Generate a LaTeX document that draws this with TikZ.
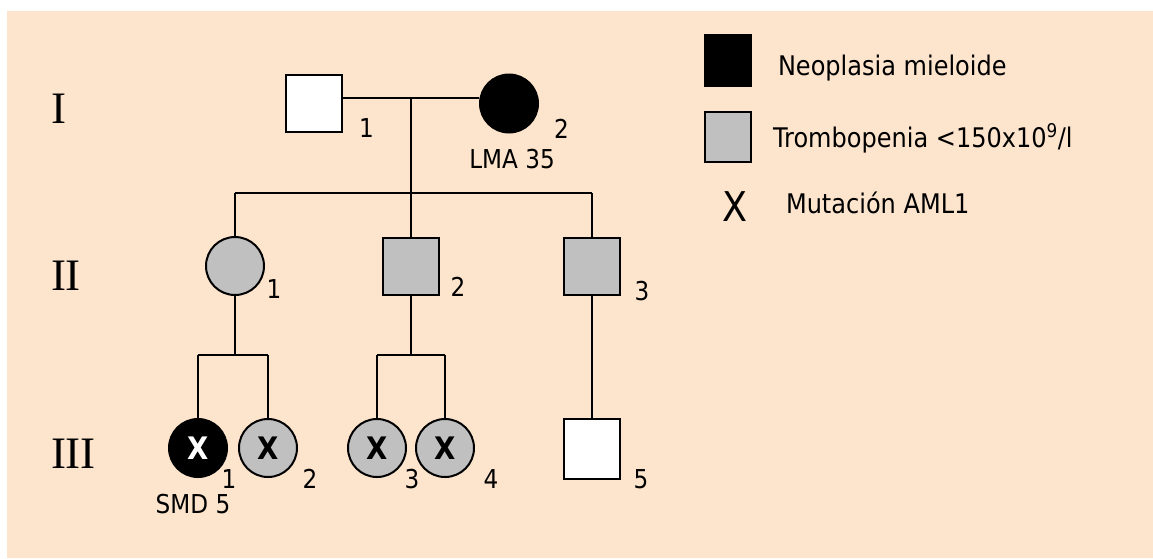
\documentclass[tikz,border=0pt]{standalone}
\usepackage{fontspec}
\setmainfont{Liberation Serif}
\newfontfamily\labelfont[FakeStretch=0.89]{DejaVu Sans}
\definecolor{peach}{RGB}{253,228,205}
\definecolor{affgray}{RGB}{192,192,192}

\begin{document}
\begin{tikzpicture}[x=1pt,y=-1pt, line width=2pt,
  male/.style={draw, rectangle, minimum width=56pt, minimum height=57pt, inner sep=0pt},
  female/.style={draw, circle, minimum size=58pt, inner sep=0pt},
  healthy/.style={fill=white},
  thrombo/.style={fill=affgray},
  myeloid/.style={fill=black},
  idlabel/.style={font=\labelfont\fontsize{26}{26}\selectfont, inner sep=0pt, anchor=base},
  gen/.style={font=\fontsize{45}{45}\selectfont, inner sep=0pt, anchor=base west},
  legtext/.style={font=\labelfont\fontsize{27}{27}\selectfont, inner sep=0pt, anchor=base west},
  mut/.style={font=\labelfont\bfseries\fontsize{31}{31}\selectfont, text depth=-3pt}
]
% canvas
\useasboundingbox (0,0) rectangle (1153,558);
\fill[white] (0,0) rectangle (1153,558);
\fill[peach] (7.3,11) rectangle (1153,558);

% generation numerals
\node[gen] (gI)   at (50,123) {I};
\node[gen] (gII)  at (50,290) {II};
\node[gen] (gIII) at (50,468) {III};

% generation I
\node[male, healthy]   (I1) at (314,103.5) {};
\node[female, myeloid] (I2) at (509,103.5) {};
\node[idlabel] (I1n) at (366.5,137) {1};
\node[idlabel] (I2n) at (561.5,138) {2};
\node[idlabel] (I2d) at (512,168) {LMA 35};

% generation II
\node[female, thrombo] (II1) at (235,266) {};
\node[male, thrombo]   (II2) at (411,266) {};
\node[male, thrombo]   (II3) at (592,266) {};
\node[idlabel] (II1n) at (274,298) {1};
\node[idlabel] (II2n) at (458,296) {2};
\node[idlabel] (II3n) at (642,300) {3};

% generation III
\node[female, myeloid, text=white, mut] (III1) at (198,448) {X};
\node[female, thrombo, mut] (III2) at (268,448) {X};
\node[female, thrombo, mut] (III3) at (377,448) {X};
\node[female, thrombo, mut] (III4) at (445,448) {X};
\node[male, healthy, minimum height=60pt] (III5) at (592,449) {};
\node[idlabel] (III1n) at (229,488) {1};
\node[idlabel] (III1d) at (193,513) {SMD 5};
\node[idlabel] (III2n) at (310,488) {2};
\node[idlabel] (III3n) at (412,488) {3};
\node[idlabel] (III4n) at (491,488) {4};
\node[idlabel] (III5n) at (641,488) {5};

% mating and sibship lines
\coordinate (m1) at (411,98);
\coordinate (s1) at (411,193);
\coordinate (s2) at (235,355);
\coordinate (s3) at (411,355);
\draw (I1.east |- m1) -- (I2.west |- m1);
\draw (m1) -- (s1);
\draw (II1.north |- s1) -- (II3.north |- s1);
\draw (II1.north |- s1) -- (II1.north);
\draw (s1) -- (II2.north);
\draw (II3.north |- s1) -- (II3.north);

\draw (II1.south) -- (s2);
\draw (III1.north |- s2) -- (III2.north |- s2);
\draw (III1.north |- s2) -- (III1.north);
\draw (III2.north |- s2) -- (III2.north);

\draw (II2.south) -- (s3);
\draw (III3.north |- s3) -- (III4.north |- s3);
\draw (III3.north |- s3) -- (III3.north);
\draw (III4.north |- s3) -- (III4.north);

\draw (II3.south) -- (III5.north);

% legend
\node[fill=black, minimum width=48pt, minimum height=53pt, inner sep=0pt] (L1) at (728,60.5) {};
\node[male, thrombo, minimum width=46pt, minimum height=50pt] (L2) at (728,137) {};
\node[font=\labelfont\fontsize{41}{41}\selectfont, inner sep=0pt] (L3) at (734.5,207) {X};
\node[legtext] (L1t) at (777,75) {Neoplasia mieloide};
\node[legtext] (L2t) at (772,147) {Trombopenia <150x10\textsuperscript{9}/l};
\node[legtext] (L3t) at (785,213) {Mutación AML1};
\end{tikzpicture}
\end{document}
